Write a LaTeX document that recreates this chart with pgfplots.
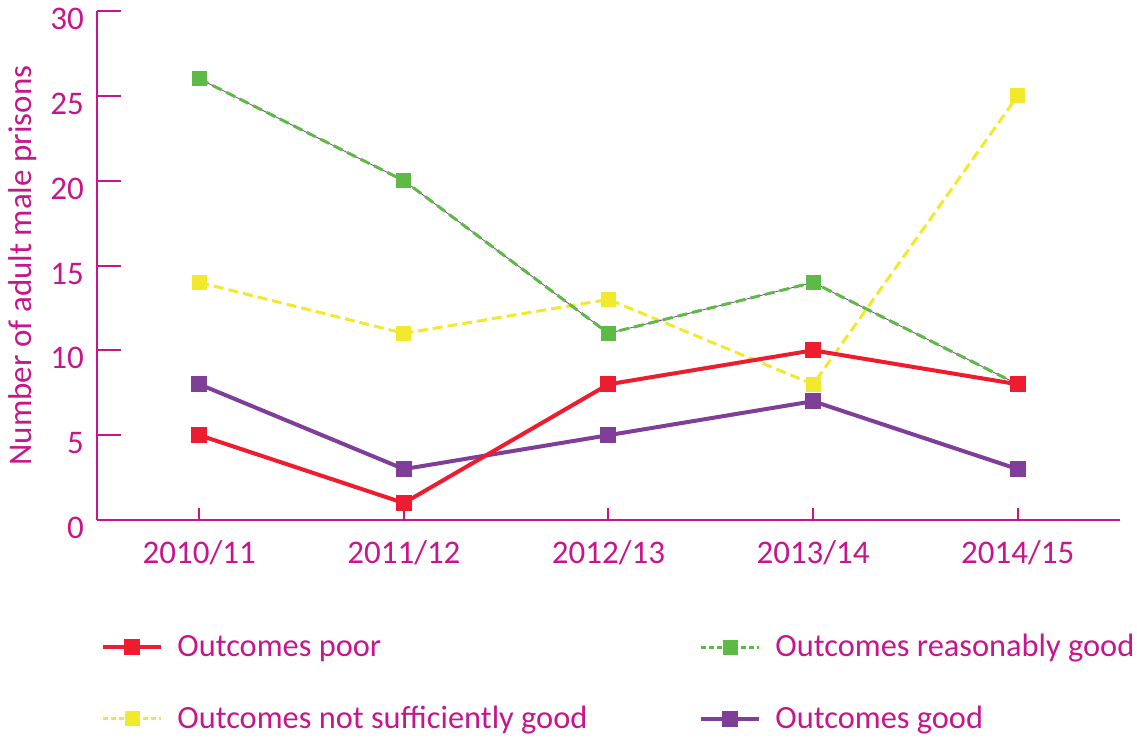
\documentclass[border=0pt]{standalone}
\usepackage{fontspec}
\setmainfont{Carlito}
\usepackage{pgfplots}
\pgfplotsset{compat=1.18}
\definecolor{mag}{RGB}{199,22,139}
\definecolor{cred}{RGB}{237,28,46}
\definecolor{cgreen}{RGB}{94,186,71}
\definecolor{cyellow}{RGB}{243,233,44}
\definecolor{cpurple}{RGB}{127,63,152}
\begin{document}
\begin{tikzpicture}
\useasboundingbox (-48.5pt,-110pt) rectangle (520pt,260pt);
\begin{axis}[
  at={(0,0)}, anchor=south west,
  width=511.5pt, height=254.5pt, scale only axis,
  xmin=-0.5, xmax=4.5, ymin=0, ymax=30,
  axis lines*=left,
  axis line style={mag, line width=1pt},
  tick align=inside,
  xtick={0,1,2,3,4},
  xticklabels={2010/11,2011/12,2012/13,2013/14,2014/15},
  ytick={0,5,10,15,20,25,30},
  major tick length=12pt,
  xtick style={/pgfplots/major tick length=6pt},
  tick style={mag, line width=1pt},
  ticklabel style={font=\fontsize{16.5}{19}\selectfont, text=mag},
  xticklabel style={yshift=-7pt},
  yticklabel style={yshift=-4pt, xshift=-3pt},
  /pgf/number format/assume math mode=true,
  ylabel={Number of adult male prisons},
  ylabel style={at={(axis description cs:-0.073,0.5)}, anchor=center, font=\fontsize{16.5}{19}\selectfont, text=mag},
  clip=false,
  mark size=3pt,
  legend image code/.code={\draw[mark repeat=2,mark phase=2,#1] plot coordinates {(0pt,0pt) (14.5pt,0pt) (29pt,0pt)};},
  legend cell align=left,
  legend style={at={(axis description cs:-0.002,-0.208)}, anchor=north west, draw=none, fill=none,
    legend columns=2, font=\fontsize{16.2}{19}\selectfont, text=mag, row sep=19pt,
    /tikz/every odd column/.append style={column sep=5pt},
    /tikz/every even column/.append style={column sep=54pt}},
]
% legend entries in display order
\addlegendimage{cred, line width=2pt, mark=square*, mark options={solid}}
\addlegendentry{Outcomes poor}
\addlegendimage{cgreen, line width=1.5pt, dash pattern=on 2.5pt off 1.5pt, mark=square*, mark options={solid}}
\addlegendentry{Outcomes reasonably good}
\addlegendimage{cyellow, line width=1.5pt, dash pattern=on 2.5pt off 1.5pt, mark=square*, mark options={solid}}
\addlegendentry{Outcomes not sufficiently good}
\addlegendimage{cpurple, line width=2pt, mark=square*, mark options={solid}}
\addlegendentry{Outcomes good}
% not sufficiently good
\addplot[forget plot, cyellow, line width=1.5pt, dash pattern=on 5pt off 2.5pt, mark=square*, mark options={solid}]
  coordinates {(0,14) (1,11) (2,13) (3,8) (4,25)};
% reasonably good (thin purple line underneath)
\addplot[forget plot, cpurple, line width=0.4pt]
  coordinates {(0,26) (1,20) (2,11) (3,14) (4,8)};
\addplot[forget plot, cgreen, line width=1.5pt, dash pattern=on 5pt off 2.5pt, mark=square*, mark options={solid}]
  coordinates {(0,26) (1,20) (2,11) (3,14) (4,8)};
% good
\addplot[forget plot, cpurple, line width=2pt, mark=square*, mark options={solid}]
  coordinates {(0,8) (1,3) (2,5) (3,7) (4,3)};
% poor
\addplot[forget plot, cred, line width=2pt, mark=square*, mark options={solid}]
  coordinates {(0,5) (1,1) (2,8) (3,10) (4,8)};
\end{axis}
\end{tikzpicture}
\end{document}
